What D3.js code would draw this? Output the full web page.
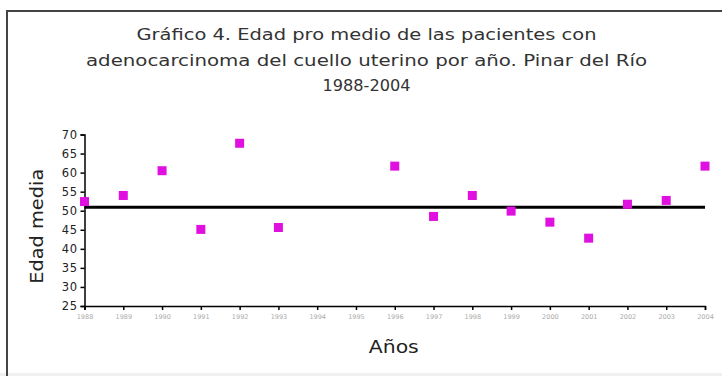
<!DOCTYPE html>
<html>
<head>
<meta charset="utf-8">
<script src="https://cdn.jsdelivr.net/npm/d3@7"></script>
<style>
  html, body { margin: 0; padding: 0; background: #fff; }
  svg { display: block; }
</style>
</head>
<body>
<svg id="chart" width="722" height="376"></svg>
<script>
// Mean age of patients with cervical adenocarcinoma by year, Pinar del Río
const years = [1988, 1989, 1990, 1991, 1992, 1993, 1994, 1995, 1996, 1997, 1998, 1999, 2000, 2001, 2002, 2003, 2004];
const pointYears = [1988, 1989, 1990, 1991, 1992, 1993, 1996, 1997, 1998, 1999, 2000, 2001, 2002, 2003, 2004];
const meanAges = [52.4, 54.0, 60.5, 45.1, 67.7, 45.6, 61.7, 48.5, 54.0, 49.9, 47.0, 42.8, 51.7, 52.7, 61.7];
const overallMean = 50.9;
const yTicks = [25, 30, 35, 40, 45, 50, 55, 60, 65, 70];
const titleLines = [
  "Gráfico 4.  Edad pro medio de las pacientes con",
  "adenocarcinoma  del cuello uterino por año. Pinar del Río",
  "1988-2004"
];
const yLabel = "Edad media";
const xLabel = "Años";

const svg = d3.select("#chart");
const font = "DejaVu Sans, Verdana, sans-serif";

// outer frame
svg.append("rect").attr("x", 0).attr("y", 373).attr("width", 722).attr("height", 3).attr("fill", "#f0f0f0");
svg.append("path")
  .attr("d", "M7,376 L7,11 L722,11")
  .attr("fill", "none").attr("stroke", "#444").attr("stroke-width", 2);

const x = d3.scaleLinear().domain([1988, 2004]).range([84.5, 705]);
const y = d3.scaleLinear().domain([25, 70]).range([306, 134.5]);

// title
const titleY = [35, 61, 86];
const titleW = [460, 561, 88];
svg.append("g").selectAll("text").data(titleLines).join("text")
  .attr("x", 366.5).attr("y", (d, i) => titleY[i])
  .attr("text-anchor", "middle").attr("dominant-baseline", "middle")
  .attr("font-family", font)
  .attr("font-size", 16).attr("fill", "#333")
  .attr("textLength", (d, i) => titleW[i]).attr("lengthAdjust", "spacingAndGlyphs")
  .text(d => d);

// y axis
const yAxis = svg.append("g").attr("transform", `translate(${x.range()[0]},0)`)
  .call(d3.axisLeft(y).tickValues(yTicks).tickSize(4).tickPadding(3).tickFormat(d3.format("d")));
yAxis.select(".domain").attr("stroke", "#000").attr("stroke-width", 1.5);
yAxis.selectAll(".tick line").attr("stroke", "#000").attr("stroke-width", 1.5);
yAxis.selectAll(".tick text")
  .attr("font-family", font).attr("font-size", 11.5)
  .attr("fill", "#222").attr("letter-spacing", 0.5);

// x axis
const xAxis = svg.append("g").attr("transform", `translate(0,${y.range()[0]})`)
  .call(d3.axisBottom(x).tickValues(years).tickSize(4).tickPadding(4).tickFormat(d3.format("d")));
xAxis.select(".domain").attr("stroke", "#000").attr("stroke-width", 1.5);
xAxis.selectAll(".tick line").attr("stroke", "#000").attr("stroke-width", 1.5);
xAxis.selectAll(".tick text")
  .attr("font-family", font).attr("font-size", 6.5)
  .attr("fill", "#aaa");

// axis titles
svg.append("text")
  .attr("transform", `translate(38,${(y.range()[0] + y.range()[1]) / 2 + 6}) rotate(-90)`)
  .attr("text-anchor", "middle").attr("dominant-baseline", "middle")
  .attr("font-family", font).attr("font-size", 17)
  .attr("fill", "#222").attr("textLength", 115).attr("lengthAdjust", "spacingAndGlyphs")
  .text(yLabel);
svg.append("text")
  .attr("x", (x.range()[0] + x.range()[1]) / 2 - 1).attr("y", 348)
  .attr("text-anchor", "middle").attr("dominant-baseline", "middle")
  .attr("font-family", font).attr("font-size", 17)
  .attr("fill", "#222").attr("textLength", 50).attr("lengthAdjust", "spacingAndGlyphs")
  .text(xLabel);

// overall mean line
svg.append("line")
  .attr("x1", x(1988)).attr("x2", x(2004))
  .attr("y1", y(overallMean)).attr("y2", y(overallMean))
  .attr("stroke", "#000").attr("stroke-width", 3);

// yearly means
const pts = pointYears.map((yr, i) => ({ yr, v: meanAges[i] }));
svg.append("g").selectAll("rect").data(pts).join("rect")
  .attr("x", d => x(d.yr) - 4.5).attr("y", d => y(d.v) - 4.5)
  .attr("width", 9).attr("height", 9)
  .attr("fill", "#e010e0");
</script>
</body>
</html>
